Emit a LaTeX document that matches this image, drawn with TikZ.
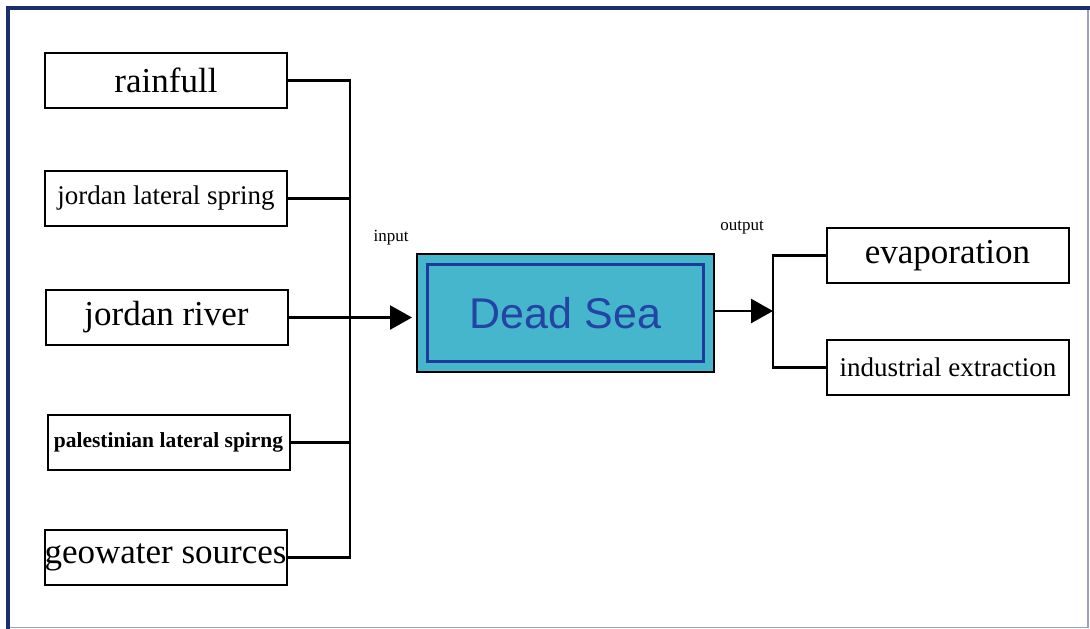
\documentclass[tikz,border=0pt]{standalone}
\usepackage{fontspec}
\setmainfont{Liberation Serif}
\setsansfont{Liberation Sans}
\usetikzlibrary{arrows.meta}
\definecolor{framenavy}{HTML}{1C2E6E}
\definecolor{framefaint}{HTML}{9AA0C0}
\definecolor{seateal}{HTML}{45B6CC}
\definecolor{seanavy}{HTML}{1E3A9A}
\definecolor{seatext}{HTML}{2444A4}
\tikzset{
  srcbox/.style={draw=black, line width=2pt, fill=white, minimum width=242pt, minimum height=55pt, inner sep=0pt, align=center},
  bigtxt/.style={font=\fontsize{35}{35}\selectfont},
  midtxt/.style={font=\fontsize{27}{27}\selectfont},
  smalltxt/.style={font=\fontsize{21.5}{21.5}\selectfont\bfseries},
  conn/.style={draw=black, line width=2.6pt},
  tri/.style={-{Triangle[length=22pt,width=24pt]}},
  lbl/.style={font=\fontsize{17}{17}\selectfont, inner sep=0pt}
}
\begin{document}
\begin{tikzpicture}[x=1pt,y=-1pt]
\useasboundingbox (0,0) rectangle (1090,629);
\fill[white] (0,0) rectangle (1090,629);
% frame
\draw[framefaint, line width=1.5pt] (1088,7.5) -- (1088,627.5) -- (7.5,627.5);
\draw[framenavy, line width=4pt] (7.5,629) -- (7.5,7.5) -- (1090,7.5);

% source boxes
\node[srcbox, bigtxt] (rain) at (166,80.5) {rainfull};
\node[srcbox, midtxt] (jls) at (166,198.5) {jordan lateral spring};
\node[srcbox, bigtxt] (jr) at (166.5,317.5) {jordan river};
\node[srcbox, smalltxt] (pls) at (168.5,442.5) {palestinian lateral spirng};
\node[srcbox, bigtxt] (geo) at (165.5,557.5) {geowater sources};

% Dead Sea
\node[draw=black, line width=2pt, fill=seateal, minimum width=297pt, minimum height=118pt, inner sep=0pt,
      font=\sffamily\fontsize{43}{43}\selectfont, text=seatext] (dead) at (565.5,313) {Dead Sea};
\draw[seanavy, line width=3pt] ([shift={(11,11)}]dead.north west) rectangle ([shift={(-12,-12)}]dead.south east);

% output boxes
\node[srcbox, bigtxt] (evap) at (947.5,255.5) {evaporation};
\node[srcbox, midtxt] (ind) at (948,367.5) {industrial extraction};

% labels
\node[lbl] (inlbl) at (391,238) {input};
\node[lbl] (outlbl) at (742,228) {output};

% input bus
\coordinate (busin) at (350,317.5);
\draw[conn] (rain.east) -| (busin) |- (geo.east);
\draw[conn] (jls.east) -- (jls.east -| busin);
\draw[conn] (pls.east) -- (pls.east -| busin);
\draw[conn, tri] (jr.east) -- ([xshift=-4pt]jr.east -| dead.west);

% output bus
\coordinate (busout) at (773,311);
\draw[conn] (evap.west) -| (busout) |- (ind.west);
\draw[conn, tri] (dead.east |- busout) -- (busout);
\end{tikzpicture}
\end{document}
